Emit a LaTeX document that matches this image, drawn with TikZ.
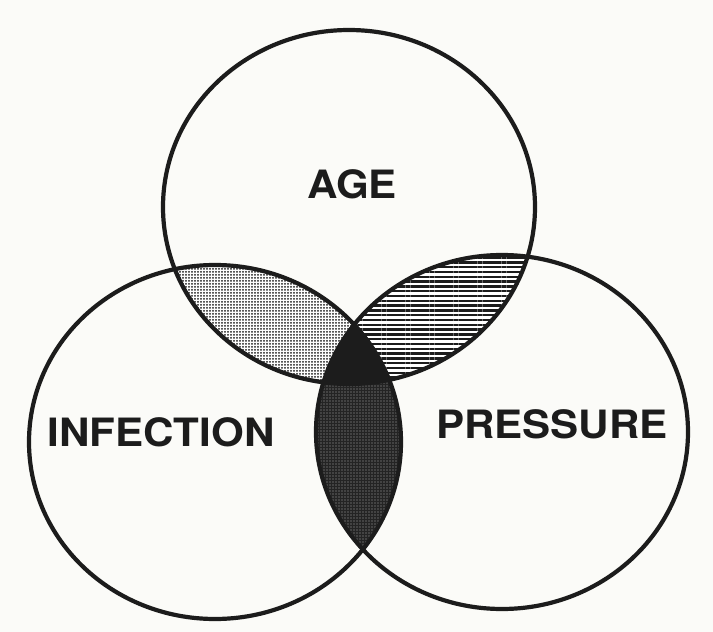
\documentclass[tikz,border=0pt]{standalone}
\usepackage{graphicx}
\usepackage{fontspec}
\setmainfont{TeX Gyre Heros}
\usetikzlibrary{patterns.meta}

\definecolor{paper}{RGB}{251,251,248}
\definecolor{ink}{RGB}{28,28,28}

\tikzset{
  ring/.style={draw=ink, line width=4.2pt},
  setlabel/.style={font=\fontsize{39}{40}\selectfont\bfseries, text=ink, inner sep=0pt},
  dotfill/.style={pattern={Dots[distance=3pt, radius=1pt]}, pattern color=ink},
  linefill/.style={pattern={Lines[angle=0, distance=4.8pt, line width=2.3pt]}, pattern color=ink}
}

\begin{document}
\begin{tikzpicture}[x=1pt, y=-1pt]
\useasboundingbox (0,0) rectangle (713,632);
\fill[paper] (0,0) rectangle (713,632);

\coordinate (agec) at (349,207);
\coordinate (infc) at (215,442);
\coordinate (prec) at (502,432);
\def\rx{186}
\def\ry{177}

% age and infection
\begin{scope}
  \clip (agec) ellipse [x radius=\rx, y radius=\ry];
  \fill[white] (infc) ellipse [x radius=\rx, y radius=\ry];
  \fill[dotfill] (infc) ellipse [x radius=\rx, y radius=\ry];
\end{scope}
% age and pressure
\begin{scope}
  \clip (agec) ellipse [x radius=\rx, y radius=\ry];
  \fill[white] (prec) ellipse [x radius=\rx, y radius=\ry];
  \fill[linefill] (prec) ellipse [x radius=\rx, y radius=\ry];
\end{scope}
% infection and pressure
\begin{scope}
  \clip (infc) ellipse [x radius=\rx, y radius=\ry];
  \fill[black!86] (prec) ellipse [x radius=\rx, y radius=\ry];
  \fill[pattern={Dots[distance=3pt, radius=0.6pt]}, pattern color=gray!65]
    (prec) ellipse [x radius=\rx, y radius=\ry];
\end{scope}
% all three
\begin{scope}
  \clip (agec) ellipse [x radius=\rx, y radius=\ry];
  \clip (infc) ellipse [x radius=\rx, y radius=\ry];
  \fill[ink] (prec) ellipse [x radius=\rx, y radius=\ry];
\end{scope}

\draw[ring] (agec) ellipse [x radius=\rx, y radius=\ry];
\draw[ring] (infc) ellipse [x radius=\rx, y radius=\ry];
\draw[ring] (prec) ellipse [x radius=\rx, y radius=\ry];

\node[setlabel] (age) at (352,184) {\scalebox{1.08}[1]{AGE}};
\node[setlabel] (infection) at (161,432) {\scalebox{1.08}[1]{INFECTION}};
\node[setlabel] (pressure) at (552,424) {\scalebox{1.08}[1]{PRESSURE}};
\end{tikzpicture}
\end{document}
